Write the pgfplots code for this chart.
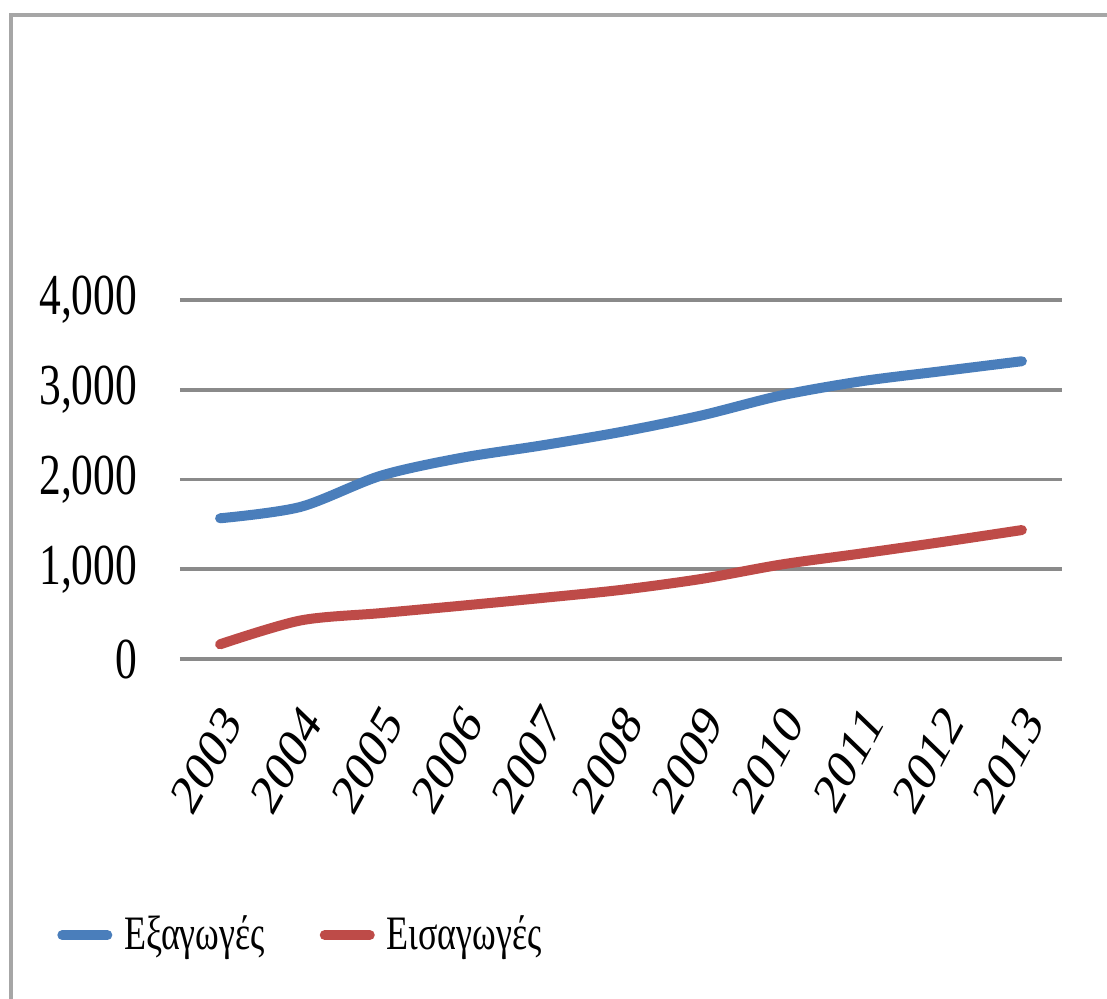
\documentclass[border=0pt]{standalone}
\usepackage{fontspec}
\setmainfont{Liberation Serif}[FakeStretch=0.75]
\newfontfamily\plainserif{Liberation Serif}
\usepackage{pgfplots}
\pgfplotsset{compat=1.18}

\definecolor{expblue}{HTML}{4A7EBB}
\definecolor{impred}{HTML}{BE4B48}
\definecolor{gridgray}{HTML}{8A8A8A}
\definecolor{framegray}{HTML}{A6A6A6}

\pgfplotsset{
  shortline/.style={legend image code/.code={%
    \draw[##1] (0pt,0pt) -- (11.25pt,0pt);}},
}

\begin{document}
\begin{tikzpicture}
\useasboundingbox (0pt,0pt) rectangle (276.75pt,-249.75pt);
% outer frame (left and top edges)
\draw[framegray, line width=0.8pt] (2.75pt,-249.75pt) -- (2.75pt,-3.75pt) -- (276.75pt,-3.75pt);
\begin{axis}[
  at={(45pt,-164.75pt)}, anchor=south west,
  scale only axis, width=220.5pt, height=89.75pt,
  xmin=-0.5, xmax=10.5, ymin=0, ymax=4000,
  axis lines*=left, axis line style={draw=none},
  major tick length=0pt,
  ymajorgrids, grid style={line width=0.9pt, gridgray},
  xtick={0,...,10},
  xticklabels={2003,2004,2005,2006,2007,2008,2009,2010,2011,2012,2013},
  ytick={0,1000,2000,3000,4000},
  /pgf/number format/assume math mode=true,
  /pgf/number format/1000 sep={,},
  yticklabel style={font=\fontsize{14.5}{17}\selectfont, inner sep=0pt, anchor=east},
  yticklabel shift=10.5pt,
  xticklabel style={font=\plainserif\fontsize{14.4}{17}\selectfont, inner sep=0pt,
    anchor=north east, xscale=0.75, rotate=54},
  xticklabel shift=10.5pt,
  legend columns=2,
  legend style={draw=none, fill=none, at={(-0.14,-0.769)}, anchor=west,
    inner sep=0pt, font=\fontsize{12}{14}\selectfont,
    nodes={inner sep=0pt},
    /tikz/every odd column/.append style={column sep=3pt},
    /tikz/every even column/.append style={column sep=13.75pt}},
]
\addlegendimage{expblue, line width=2.5pt, line cap=round, shortline}
\addlegendentry{Εξαγωγές}
\addlegendimage{impred, line width=2.5pt, line cap=round, shortline}
\addlegendentry{Εισαγωγές}
\addplot[expblue, line width=2.5pt, smooth, line cap=round, forget plot] coordinates {
  (0,1568) (1,1694) (2,2041) (3,2240) (4,2378) (5,2530)
  (6,2713) (7,2937) (8,3095) (9,3207) (10,3318)};
\addplot[impred, line width=2.5pt, smooth, line cap=round, forget plot] coordinates {
  (0,164) (1,429) (2,511) (3,593) (4,679) (5,770)
  (6,892) (7,1053) (8,1176) (9,1303) (10,1437)};
\end{axis}
\end{tikzpicture}
\end{document}
